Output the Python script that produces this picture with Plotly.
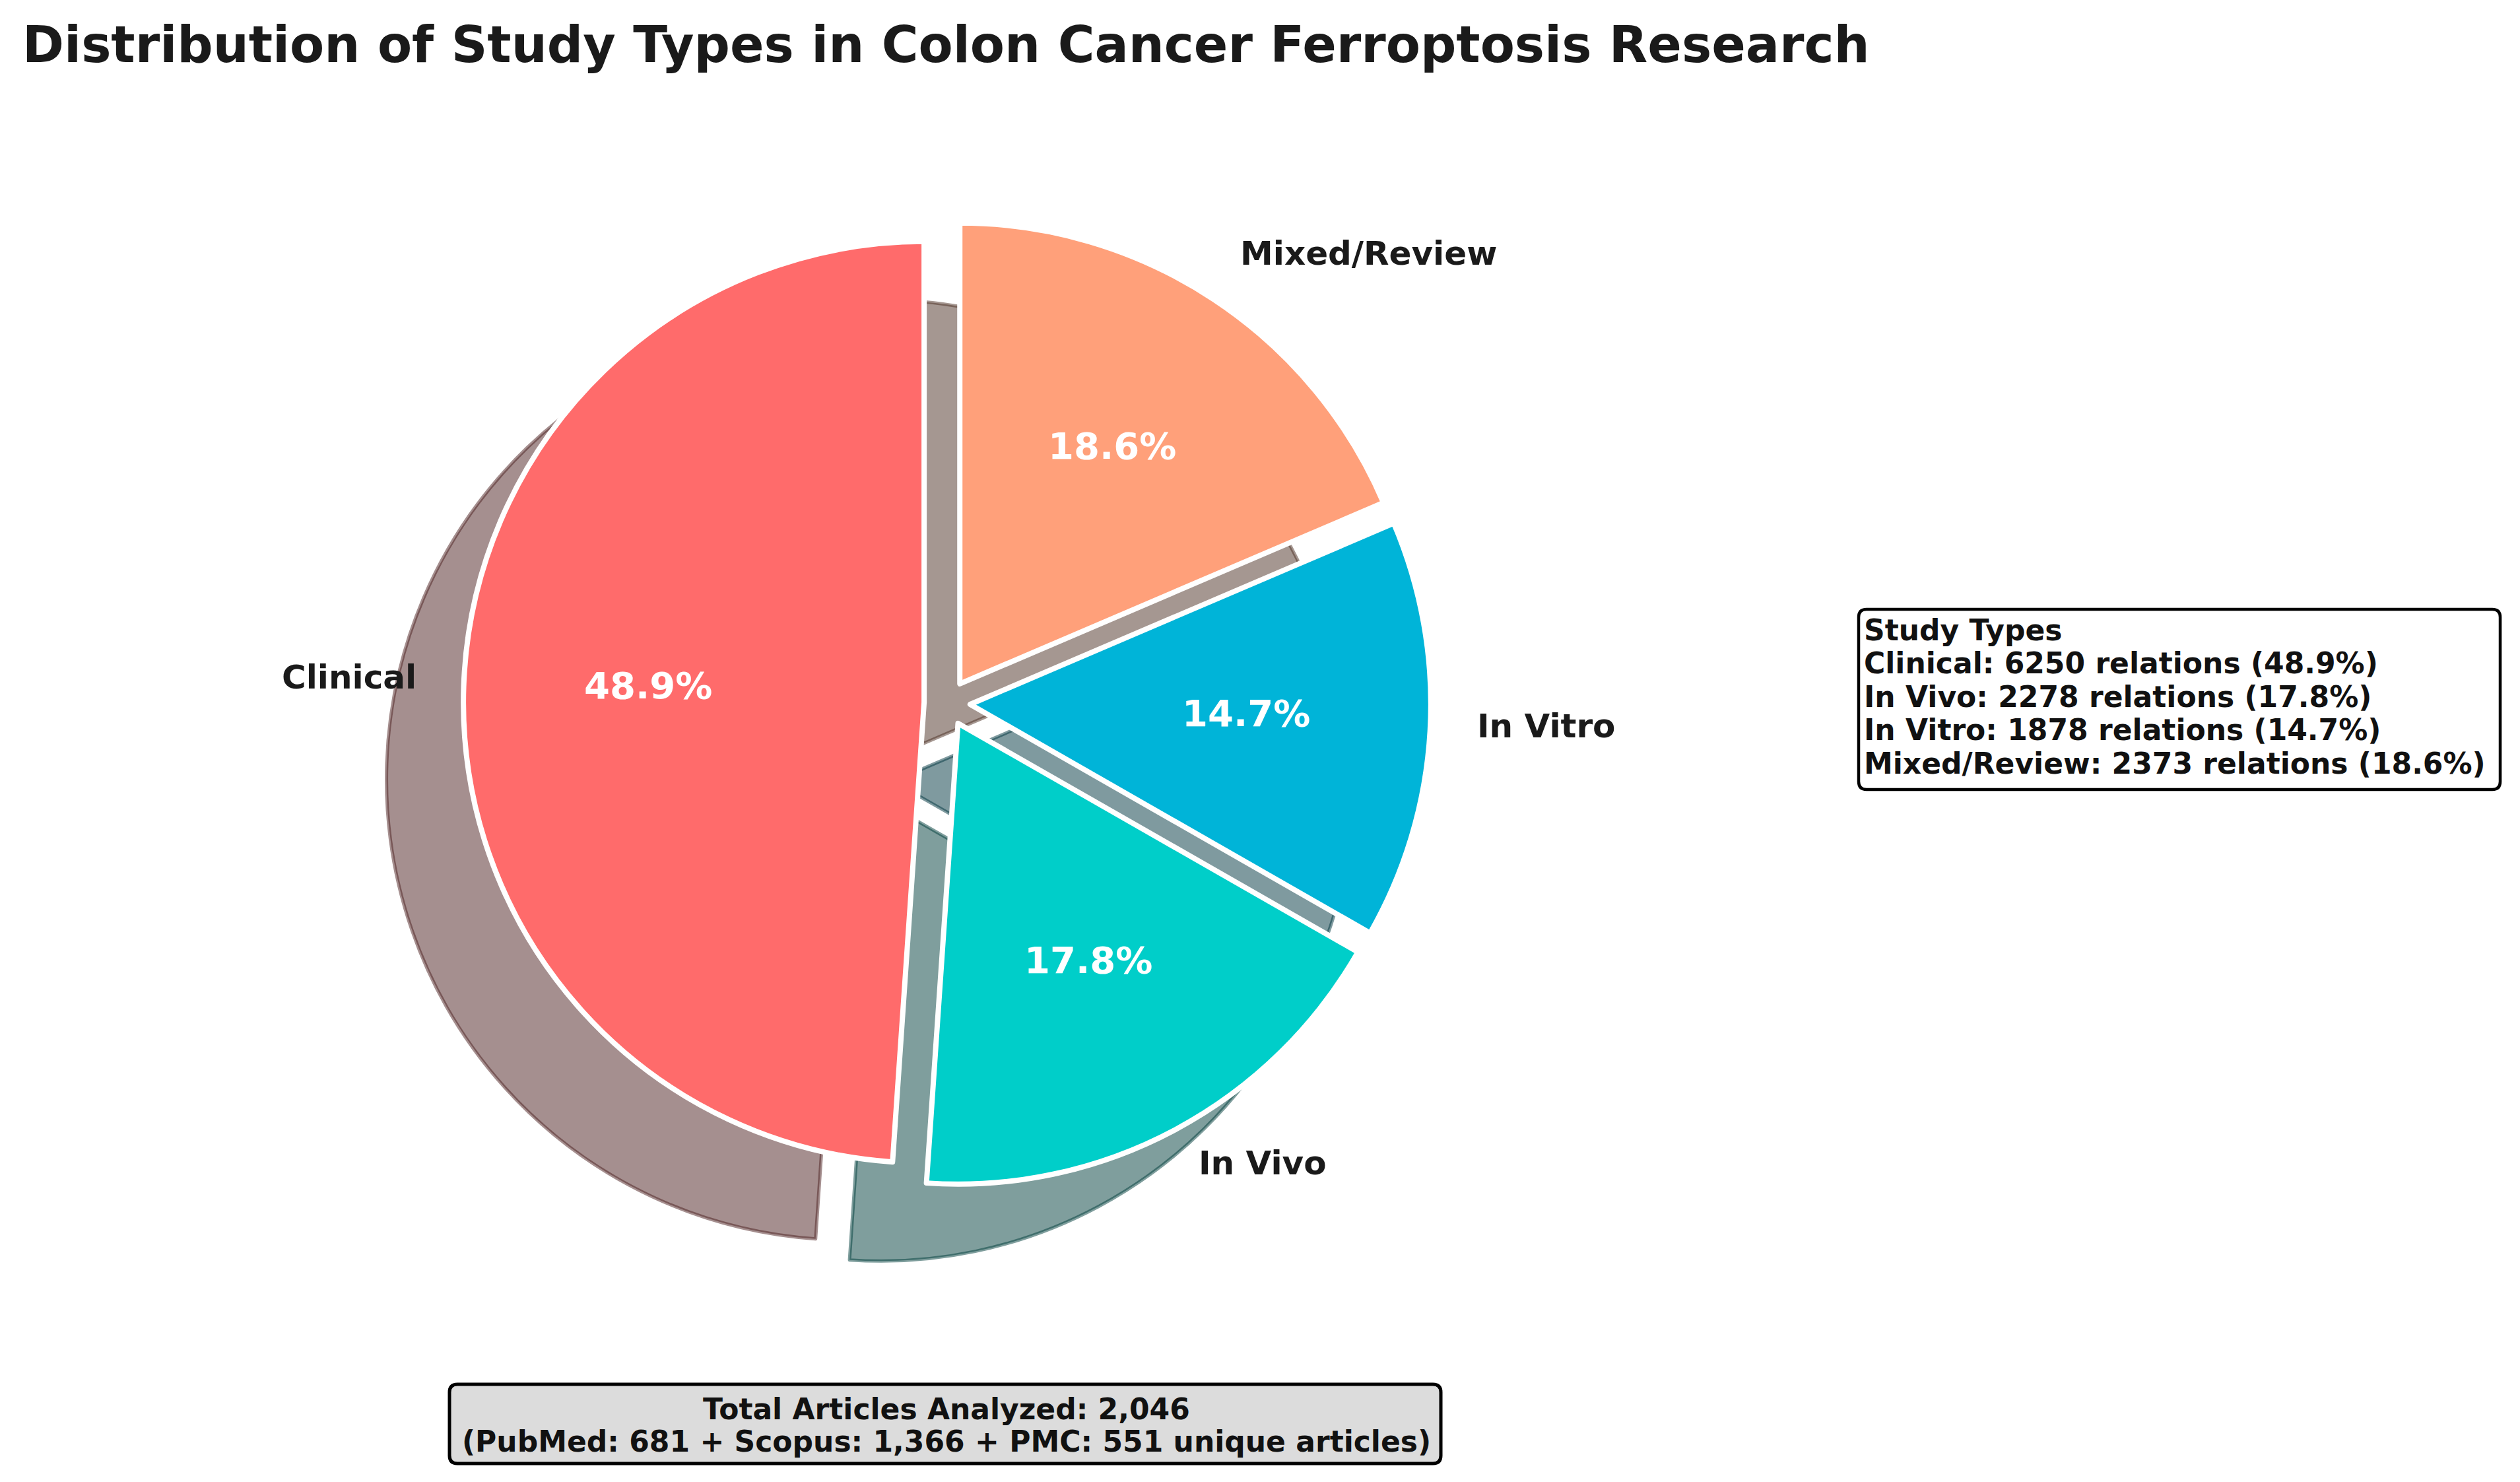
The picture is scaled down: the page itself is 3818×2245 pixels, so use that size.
import numpy as np
import plotly.graph_objects as go

# data
categories = ["Clinical", "In Vivo", "In Vitro", "Mixed/Review"]
relations = [6250, 2278, 1878, 2373]
slice_colors = ["#FF6B6B", "#00CEC9", "#00B4D8", "#FFA07A"]
sources = ["PubMed", "Scopus", "PMC"]
source_counts = [681, 1366, 551]
total_articles = 2046

W, H = 3818, 2245
FONT = "DejaVu Sans"

# pie geometry (pixels)
cx, cy = 1427, 1057
r = 698
pull = 0.05
shadow_off = 0.167 * r
text_dy = -11  # plotly's "middle" sits a bit lower than matplotlib's center


def px(x, y):
    return x / W, 1 - y / H


def hex_rgb(h):
    h = h.lstrip("#")
    return [int(h[i:i + 2], 16) for i in (0, 2, 4)]


def dom(x0, y0):
    side = r * (2 + 2 * pull)
    return dict(x=[(x0 - side / 2) / W, (x0 + side / 2) / W],
                y=[1 - (y0 + side / 2) / H, 1 - (y0 - side / 2) / H])


vals = np.array(relations, dtype=float)
fracs = vals / vals.sum()
# plotly's counterclockwise puts slice 0 right of 12 o'clock; rotate it back so
# it starts at 12 o'clock and runs counterclockwise like the original
rot = -360 * fracs[0]

shadow_cols = []
for c in slice_colors:
    rr, gg, bb = [int(0.3 * v) for v in hex_rgb(c)]
    shadow_cols.append(f"rgba({rr},{gg},{bb},0.5)")

fig = go.Figure()

# shadow pie
fig.add_trace(go.Pie(
    labels=categories, values=relations, sort=False, direction="counterclockwise",
    rotation=rot, pull=[pull] * 4, domain=dom(cx - shadow_off, cy + shadow_off),
    marker=dict(colors=shadow_cols, line=dict(color=shadow_cols, width=5)),
    textinfo="none", hoverinfo="skip", showlegend=False,
))

# main pie
fig.add_trace(go.Pie(
    labels=categories, values=relations, sort=False, direction="counterclockwise",
    rotation=rot, pull=[pull] * 4, domain=dom(cx, cy),
    marker=dict(colors=slice_colors, line=dict(color="white", width=8)),
    textinfo="none", hoverinfo="skip", showlegend=False,
))

annotations = []
shapes = []

# slice labels and percentages, same placement rules as the original (1.1r / 0.6r)
start = 90.0
for cat, f in zip(categories, fracs):
    mid = np.radians(start + 180 * f)
    start += 360 * f
    ux, uy = np.cos(mid), -np.sin(mid)
    ex, ey = cx + pull * r * ux, cy + pull * r * uy
    lx, ly = px(ex + 1.1 * r * ux, ey + 1.1 * r * uy + text_dy)
    annotations.append(dict(
        x=lx, y=ly, xref="paper", yref="paper", text=cat, showarrow=False,
        xanchor="left" if ux > 0 else "right", yanchor="middle",
        font=dict(family=FONT, size=50, color="#1a1a1a", weight="bold"),
    ))
    tx, ty = px(ex + 0.6 * r * ux, ey + 0.6 * r * uy + text_dy)
    annotations.append(dict(
        x=tx, y=ty, xref="paper", yref="paper", text=f"{f * 100:.1f}%", showarrow=False,
        xanchor="center", yanchor="middle",
        font=dict(family=FONT, size=56, color="white", weight="bold"),
    ))


def round_box(x0, y0, x1, y1, rad, fill, lw):
    ax0, ay0 = px(x0, y0)
    ax1, ay1 = px(x1, y1)
    rx, ry = rad / W, rad / H
    path = (f"M {ax0 + rx},{ay0} L {ax1 - rx},{ay0} Q {ax1},{ay0} {ax1},{ay0 - ry} "
            f"L {ax1},{ay1 + ry} Q {ax1},{ay1} {ax1 - rx},{ay1} "
            f"L {ax0 + rx},{ay1} Q {ax0},{ay1} {ax0},{ay1 + ry} "
            f"L {ax0},{ay0 - ry} Q {ax0},{ay0} {ax0 + rx},{ay0} Z")
    return dict(type="path", xref="paper", yref="paper", path=path,
                fillcolor=fill, line=dict(color="black", width=lw), layer="below")


# "legend" text box on the right
shapes.append(round_box(2808, 915, 3780, 1188, 12, "white", 4.5))
legend_lines = ["Study Types"] + [
    f"{c}: {v} relations ({f * 100:.1f}%)" for c, v, f in zip(categories, relations, fracs)
]
for i, line in enumerate(legend_lines):
    lx, ly = px(2814, 946 + 50.5 * i)
    annotations.append(dict(
        x=lx, y=ly, xref="paper", yref="paper", text=line, showarrow=False,
        xanchor="left", yanchor="middle",
        font=dict(family=FONT, size=44, color="#111111", weight="bold"),
    ))

# summary box at the bottom
shapes.append(round_box(673, 2089, 2175, 2209, 12, "#DCDCDC", 5))
summary_lines = [
    f"Total Articles Analyzed: {total_articles:,}",
    "(" + " + ".join(f"{s}: {n:,}" for s, n in zip(sources, source_counts)) + " unique articles)",
]
for i, line in enumerate(summary_lines):
    sx, sy = px(1426, 2126 + 49 * i)
    annotations.append(dict(
        x=sx, y=sy, xref="paper", yref="paper", text=line, showarrow=False,
        xanchor="center", yanchor="middle",
        font=dict(family=FONT, size=44, color="#111111", weight="bold"),
    ))

# title
tx, ty = px(1425, 60)
annotations.append(dict(
    x=tx, y=ty, xref="paper", yref="paper",
    text="Distribution of Study Types in Colon Cancer Ferroptosis Research",
    showarrow=False, xanchor="center", yanchor="middle",
    font=dict(family=FONT, size=76, color="#1a1a1a", weight="bold"),
))

fig.update_layout(
    width=W, height=H,
    margin=dict(l=0, r=0, t=0, b=0, pad=0),
    paper_bgcolor="white", plot_bgcolor="white",
    annotations=annotations, shapes=shapes,
    showlegend=False,
)

fig.write_html("out.html")
